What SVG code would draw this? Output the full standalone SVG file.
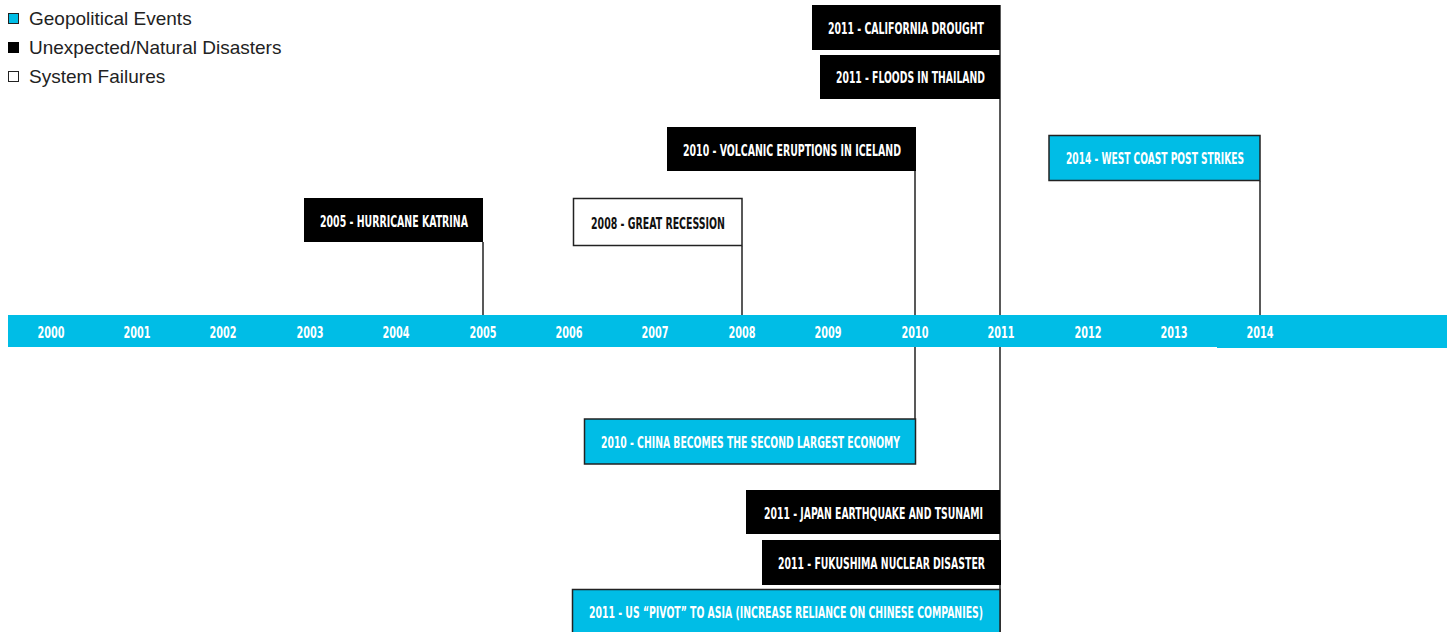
<svg xmlns="http://www.w3.org/2000/svg" width="1447" height="632" viewBox="0 0 1447 632">
<style>
.lg{font-family:"Liberation Sans",Arial,sans-serif;font-size:19px;fill:#222}
.t{font-family:"DejaVu Sans Condensed","DejaVu Sans",sans-serif;font-weight:bold;font-size:16px;text-anchor:middle}
.w{fill:#fff}
.k{fill:#111}
.blk{fill:#000}
.cy{fill:#00bde6;stroke:#222;stroke-width:1.5}
.wh{fill:#fff;stroke:#222;stroke-width:1.5}
.ln{stroke:#222;stroke-width:1.5;fill:none}
</style>
<rect width="1447" height="632" fill="#fff"/>
<g id="legend">
<rect x="8.5" y="13.5" width="10" height="10" fill="#00bde6" stroke="#222" stroke-width="1"/>
<text class="lg" x="29" y="25">Geopolitical Events</text>
<rect x="8" y="42" width="11" height="11" fill="#000"/>
<text class="lg" x="29" y="54">Unexpected/Natural Disasters</text>
<rect x="8.5" y="71.5" width="10" height="10" fill="#fff" stroke="#222" stroke-width="1"/>
<text class="lg" x="29" y="83">System Failures</text>
</g>
<g id="connectors">
<line class="ln" x1="1000" y1="5" x2="1000" y2="632"/>
<line class="ln" x1="915" y1="171" x2="915" y2="315"/>
<line class="ln" x1="915" y1="347" x2="915" y2="419"/>
<line class="ln" x1="1260" y1="181" x2="1260" y2="315"/>
<line class="ln" x1="483" y1="242" x2="483" y2="315"/>
<line class="ln" x1="742" y1="246" x2="742" y2="315"/>
</g>
<g id="timeline">
<rect x="8" y="315" width="1439" height="32" fill="#00bde6"/>
<rect x="1217" y="345" width="230" height="3" fill="#00bde6"/>
<g class="t w">
<text x="51" y="337.5" textLength="27" lengthAdjust="spacingAndGlyphs">2000</text>
<text x="137" y="337.5" textLength="27" lengthAdjust="spacingAndGlyphs">2001</text>
<text x="223" y="337.5" textLength="27" lengthAdjust="spacingAndGlyphs">2002</text>
<text x="310" y="337.5" textLength="27" lengthAdjust="spacingAndGlyphs">2003</text>
<text x="396" y="337.5" textLength="27" lengthAdjust="spacingAndGlyphs">2004</text>
<text x="483" y="337.5" textLength="27" lengthAdjust="spacingAndGlyphs">2005</text>
<text x="569" y="337.5" textLength="27" lengthAdjust="spacingAndGlyphs">2006</text>
<text x="655" y="337.5" textLength="27" lengthAdjust="spacingAndGlyphs">2007</text>
<text x="742" y="337.5" textLength="27" lengthAdjust="spacingAndGlyphs">2008</text>
<text x="828" y="337.5" textLength="27" lengthAdjust="spacingAndGlyphs">2009</text>
<text x="915" y="337.5" textLength="27" lengthAdjust="spacingAndGlyphs">2010</text>
<text x="1001" y="337.5" textLength="27" lengthAdjust="spacingAndGlyphs">2011</text>
<text x="1088" y="337.5" textLength="27" lengthAdjust="spacingAndGlyphs">2012</text>
<text x="1174" y="337.5" textLength="27" lengthAdjust="spacingAndGlyphs">2013</text>
<text x="1260" y="337.5" textLength="27" lengthAdjust="spacingAndGlyphs">2014</text>
</g>
</g>
<g id="california">
<rect class="blk" x="812" y="5" width="188" height="45"/>
<text class="t w" x="906" y="33.5" textLength="156" lengthAdjust="spacingAndGlyphs">2011 - CALIFORNIA DROUGHT</text>
</g>
<g id="thailand">
<rect class="blk" x="820" y="55" width="180" height="44"/>
<text class="t w" x="910.5" y="82.5" textLength="149" lengthAdjust="spacingAndGlyphs">2011 - FLOODS IN THAILAND</text>
</g>
<g id="iceland">
<rect class="blk" x="667" y="127" width="249" height="44"/>
<text class="t w" x="792" y="155.5" textLength="218" lengthAdjust="spacingAndGlyphs">2010 - VOLCANIC ERUPTIONS IN ICELAND</text>
</g>
<g id="westcoast">
<rect class="cy" x="1049" y="135.5" width="211" height="45"/>
<text class="t w" x="1155" y="163.5" textLength="178" lengthAdjust="spacingAndGlyphs">2014 - WEST COAST POST STRIKES</text>
</g>
<g id="katrina">
<rect class="blk" x="304" y="198" width="179" height="44"/>
<text class="t w" x="394" y="226.5" textLength="148" lengthAdjust="spacingAndGlyphs">2005 - HURRICANE KATRINA</text>
</g>
<g id="recession">
<rect class="wh" x="573.5" y="198.5" width="168.5" height="47"/>
<text class="t k" x="658" y="228.5" textLength="134" lengthAdjust="spacingAndGlyphs">2008 - GREAT RECESSION</text>
</g>
<g id="china">
<rect class="cy" x="584.5" y="419" width="331" height="45"/>
<text class="t w" x="750.5" y="447.5" textLength="299" lengthAdjust="spacingAndGlyphs">2010 - CHINA BECOMES THE SECOND LARGEST ECONOMY</text>
</g>
<g id="japan">
<rect class="blk" x="746" y="490" width="254" height="44"/>
<text class="t w" x="873.5" y="518.5" textLength="219" lengthAdjust="spacingAndGlyphs">2011 - JAPAN EARTHQUAKE AND TSUNAMI</text>
</g>
<g id="fukushima">
<rect class="blk" x="762" y="540" width="239" height="45"/>
<text class="t w" x="881.5" y="568.5" textLength="207" lengthAdjust="spacingAndGlyphs">2011 - FUKUSHIMA NUCLEAR DISASTER</text>
</g>
<g id="pivot">
<rect class="cy" x="572.5" y="589.5" width="427.5" height="44"/>
<text class="t w" x="786" y="617.5" textLength="394" lengthAdjust="spacingAndGlyphs">2011 - US “PIVOT” TO ASIA (INCREASE RELIANCE ON CHINESE COMPANIES)</text>
</g>
</svg>
